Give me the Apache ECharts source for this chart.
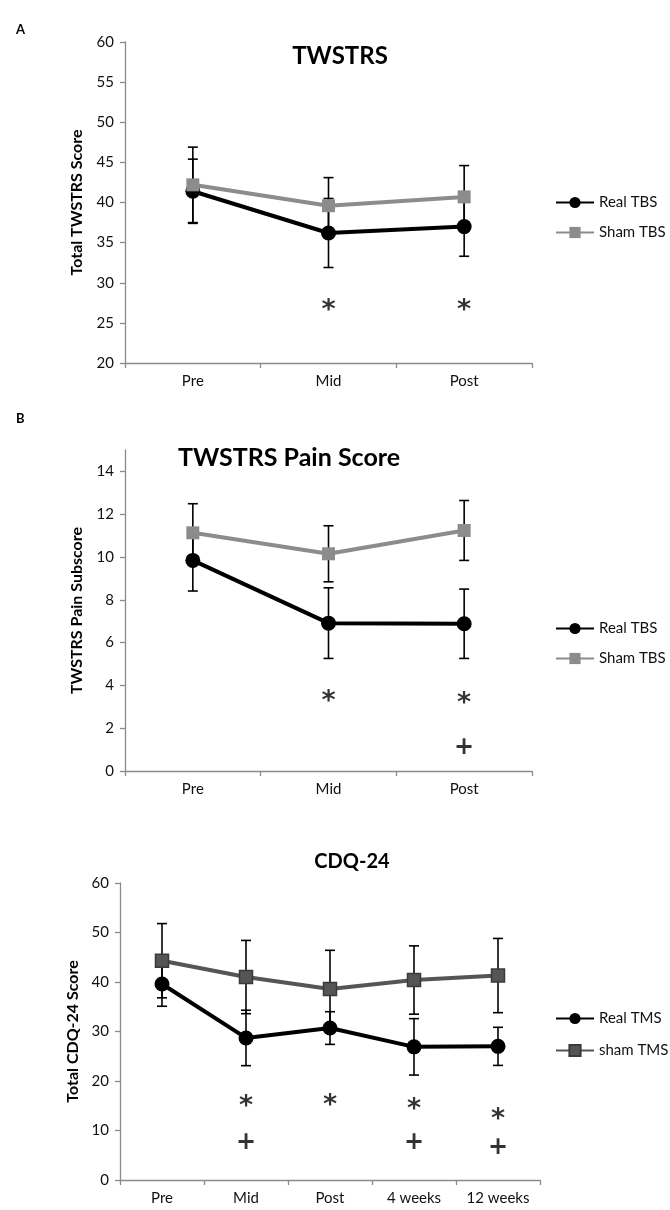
<!DOCTYPE html>
<html>
<head>
<meta charset="utf-8">
<script src="https://cdn.jsdelivr.net/npm/echarts@6/dist/echarts.min.js"></script>
<style>html,body{margin:0;padding:0;background:#fff;}#c{width:670px;height:1210px;}</style>
</head>
<body>
<div id="c"></div>
<script>
// ---- Panel A: TWSTRS ----
const catsA = ['Pre', 'Mid', 'Post'];
const realA = [41.4, 36.2, 37.0];
const realAErr = [4.0, 4.3, 3.7];
const shamA = [42.2, 39.6, 40.7];
const shamAErr = [4.7, 3.5, 3.9];
const starA = [null, 27.0, 27.0];

// ---- Panel B: TWSTRS Pain Score ----
const catsB = ['Pre', 'Mid', 'Post'];
const realB = [9.84, 6.91, 6.88];
const realBErr = [1.43, 1.65, 1.62];
const shamB = [11.13, 10.15, 11.24];
const shamBErr = [1.36, 1.31, 1.40];
const starB = [null, 3.4, 3.3];
const plusB = [null, null, 1.1];

// ---- Panel C: CDQ-24 ----
const catsC = ['Pre', 'Mid', 'Post', '4 weeks', '12 weeks'];
const realC = [39.6, 28.7, 30.7, 26.9, 27.0];
const realCErr = [4.5, 5.6, 3.3, 5.7, 3.85];
const shamC = [44.3, 41.0, 38.6, 40.4, 41.3];
const shamCErr = [7.5, 7.4, 7.8, 6.9, 7.5];
const starC = [null, 15.6, 15.8, 14.9, 12.9];
const plusC = [null, 7.5, null, 7.5, 6.5];

const yTicksA = [20, 25, 30, 35, 40, 45, 50, 55, 60];
const yTicksB = [0, 2, 4, 6, 8, 10, 12, 14];
const yTicksC = [0, 10, 20, 30, 40, 50, 60];

const FONT = 'Lato, "Open Sans", sans-serif';
const MARKFONT = '"DejaVu Sans", sans-serif';
const AX = '#8a8a8a';

function errData(vals, errs) { return vals.map((v, i) => [i, v, errs[i]]); }
function markData(vals) { return vals.map((v, i) => v == null ? null : [i, v]).filter(d => d); }

function errSeries(name, gi, vals, errs) {
  return {
    type: 'custom', name: name, xAxisIndex: gi, yAxisIndex: gi, z: 1,
    silent: true,
    data: errData(vals, errs),
    encode: { x: 0, y: 1 },
    renderItem: function (params, api) {
      const x = api.value(0), y = api.value(1), e = api.value(2);
      const t = api.coord([x, y + e]);
      const b = api.coord([x, y - e]);
      const cap = 5;
      const st = { stroke: '#000', lineWidth: 1.6 };
      return {
        type: 'group', children: [
          { type: 'line', shape: { x1: t[0], y1: t[1], x2: b[0], y2: b[1] }, style: st },
          { type: 'line', shape: { x1: t[0] - cap, y1: t[1], x2: t[0] + cap, y2: t[1] }, style: st },
          { type: 'line', shape: { x1: b[0] - cap, y1: b[1], x2: b[0] + cap, y2: b[1] }, style: st }
        ]
      };
    }
  };
}

function lineSeries(name, gi, vals, color, symbol, size, borderColor) {
  return {
    type: 'line', name: name, xAxisIndex: gi, yAxisIndex: gi, z: 3,
    data: vals, symbol: symbol, symbolSize: size, showSymbol: true,
    lineStyle: { color: color, width: 4 },
    itemStyle: { color: color, borderColor: borderColor || color, borderWidth: borderColor ? 1.5 : 0 },
    emphasis: { disabled: true },
    animation: false
  };
}

function textSeries(gi, vals, txt, size, dy) {
  return {
    type: 'scatter', name: 'mark' + gi + txt, xAxisIndex: gi, yAxisIndex: gi, z: 5,
    data: markData(vals), symbol: 'circle', symbolSize: 2, silent: true,
    itemStyle: { color: 'rgba(0,0,0,0)' },
    label: { show: true, position: 'inside', offset: [0, dy], formatter: txt, color: '#000', fontSize: size, fontFamily: MARKFONT, fontWeight: 'bold' }
  };
}

function xAxisDef(gi, cats) {
  return {
    type: 'category', gridIndex: gi, data: cats, boundaryGap: true,
    axisLine: { lineStyle: { color: AX, width: 1.3 } },
    axisTick: { show: true, length: 5, inside: false, lineStyle: { color: AX, width: 1.3 } },
    axisLabel: { color: '#111', fontSize: 15, fontFamily: FONT, margin: 11 },
    splitLine: { show: false }
  };
}

function yAxisDef(gi, min, max, interval, ticks, name, gap) {
  return {
    type: 'value', gridIndex: gi, min: min, max: max, interval: interval,
    name: name, nameLocation: 'middle', nameGap: gap,
    nameTextStyle: { color: '#000', fontSize: 16, fontWeight: 'bold', fontFamily: FONT },
    axisLine: { show: true, lineStyle: { color: AX, width: 1.3 } },
    axisTick: { show: true, length: 5, lineStyle: { color: AX, width: 1.3 }, customValues: ticks },
    axisLabel: { color: '#111', fontSize: 15, fontFamily: FONT, margin: 11, customValues: ticks },
    splitLine: { show: false }
  };
}

const legText = { fontSize: 15, fontFamily: FONT, color: '#111' };

function titleText(txt, x, y, size) {
  return { type: 'text', x: x, y: y, style: { text: txt, font: 'bold ' + size + 'px ' + FONT, fill: '#000', textAlign: 'center', textVerticalAlign: 'middle' } };
}

const chart = echarts.init(document.getElementById('c'), null, { renderer: 'canvas' });
chart.setOption({
  backgroundColor: '#fff',
  animation: false,
  graphic: [
    { type: 'text', left: 16, top: 23, style: { text: 'A', font: 'bold 13px ' + FONT, fill: '#000' } },
    { type: 'text', left: 16, top: 412, style: { text: 'B', font: 'bold 13px ' + FONT, fill: '#000' } },
    titleText('TWSTRS', 340, 56, 24),
    titleText('TWSTRS Pain Score', 289, 458, 25),
    titleText('CDQ-24', 352, 862, 20)
  ],
  legend: [
    { data: ['Real TBS', 'Sham TBS'], orient: 'vertical', left: 550, top: 190, itemWidth: 38, itemHeight: 14, itemGap: 15,
      textStyle: legText, selectedMode: false },
    { data: ['Real TBS ', 'Sham TBS '], orient: 'vertical', left: 550, top: 616, itemWidth: 38, itemHeight: 14, itemGap: 15,
      textStyle: legText, selectedMode: false },
    { data: ['Real TMS', 'sham TMS'], orient: 'vertical', left: 550, top: 1006, itemWidth: 38, itemHeight: 14, itemGap: 17,
      textStyle: legText, selectedMode: false }
  ],
  grid: [
    { left: 125, top: 42, width: 407, height: 321 },
    { left: 125, top: 450, width: 407, height: 321 },
    { left: 120, top: 883, width: 420, height: 297 }
  ],
  xAxis: [xAxisDef(0, catsA), xAxisDef(1, catsB), xAxisDef(2, catsC)],
  yAxis: [
    yAxisDef(0, 20, 60, 5, yTicksA, 'Total TWSTRS Score', 40),
    yAxisDef(1, 0, 15, 2, yTicksB, 'TWSTRS Pain Subscore', 40),
    yAxisDef(2, 0, 60, 10, yTicksC, 'Total CDQ-24 Score', 38)
  ],
  series: [
    errSeries('errRealA', 0, realA, realAErr),
    errSeries('errShamA', 0, shamA, shamAErr),
    lineSeries('Real TBS', 0, realA, '#000', 'circle', 15),
    lineSeries('Sham TBS', 0, shamA, '#8c8c8c', 'rect', 13),
    textSeries(0, starA, '*', 27, 4),

    errSeries('errRealB', 1, realB, realBErr),
    errSeries('errShamB', 1, shamB, shamBErr),
    lineSeries('Real TBS ', 1, realB, '#000', 'circle', 15),
    lineSeries('Sham TBS ', 1, shamB, '#8c8c8c', 'rect', 13),
    textSeries(1, starB, '*', 27, 4),
    textSeries(1, plusB, '+', 24, 0),

    errSeries('errRealC', 2, realC, realCErr),
    errSeries('errShamC', 2, shamC, shamCErr),
    lineSeries('Real TMS', 2, realC, '#000', 'circle', 15),
    lineSeries('sham TMS', 2, shamC, '#555555', 'rect', 13, '#3a3a3a'),
    textSeries(2, starC, '*', 27, 4),
    textSeries(2, plusC, '+', 24, 0)
  ]
});
</script>
</body>
</html>
